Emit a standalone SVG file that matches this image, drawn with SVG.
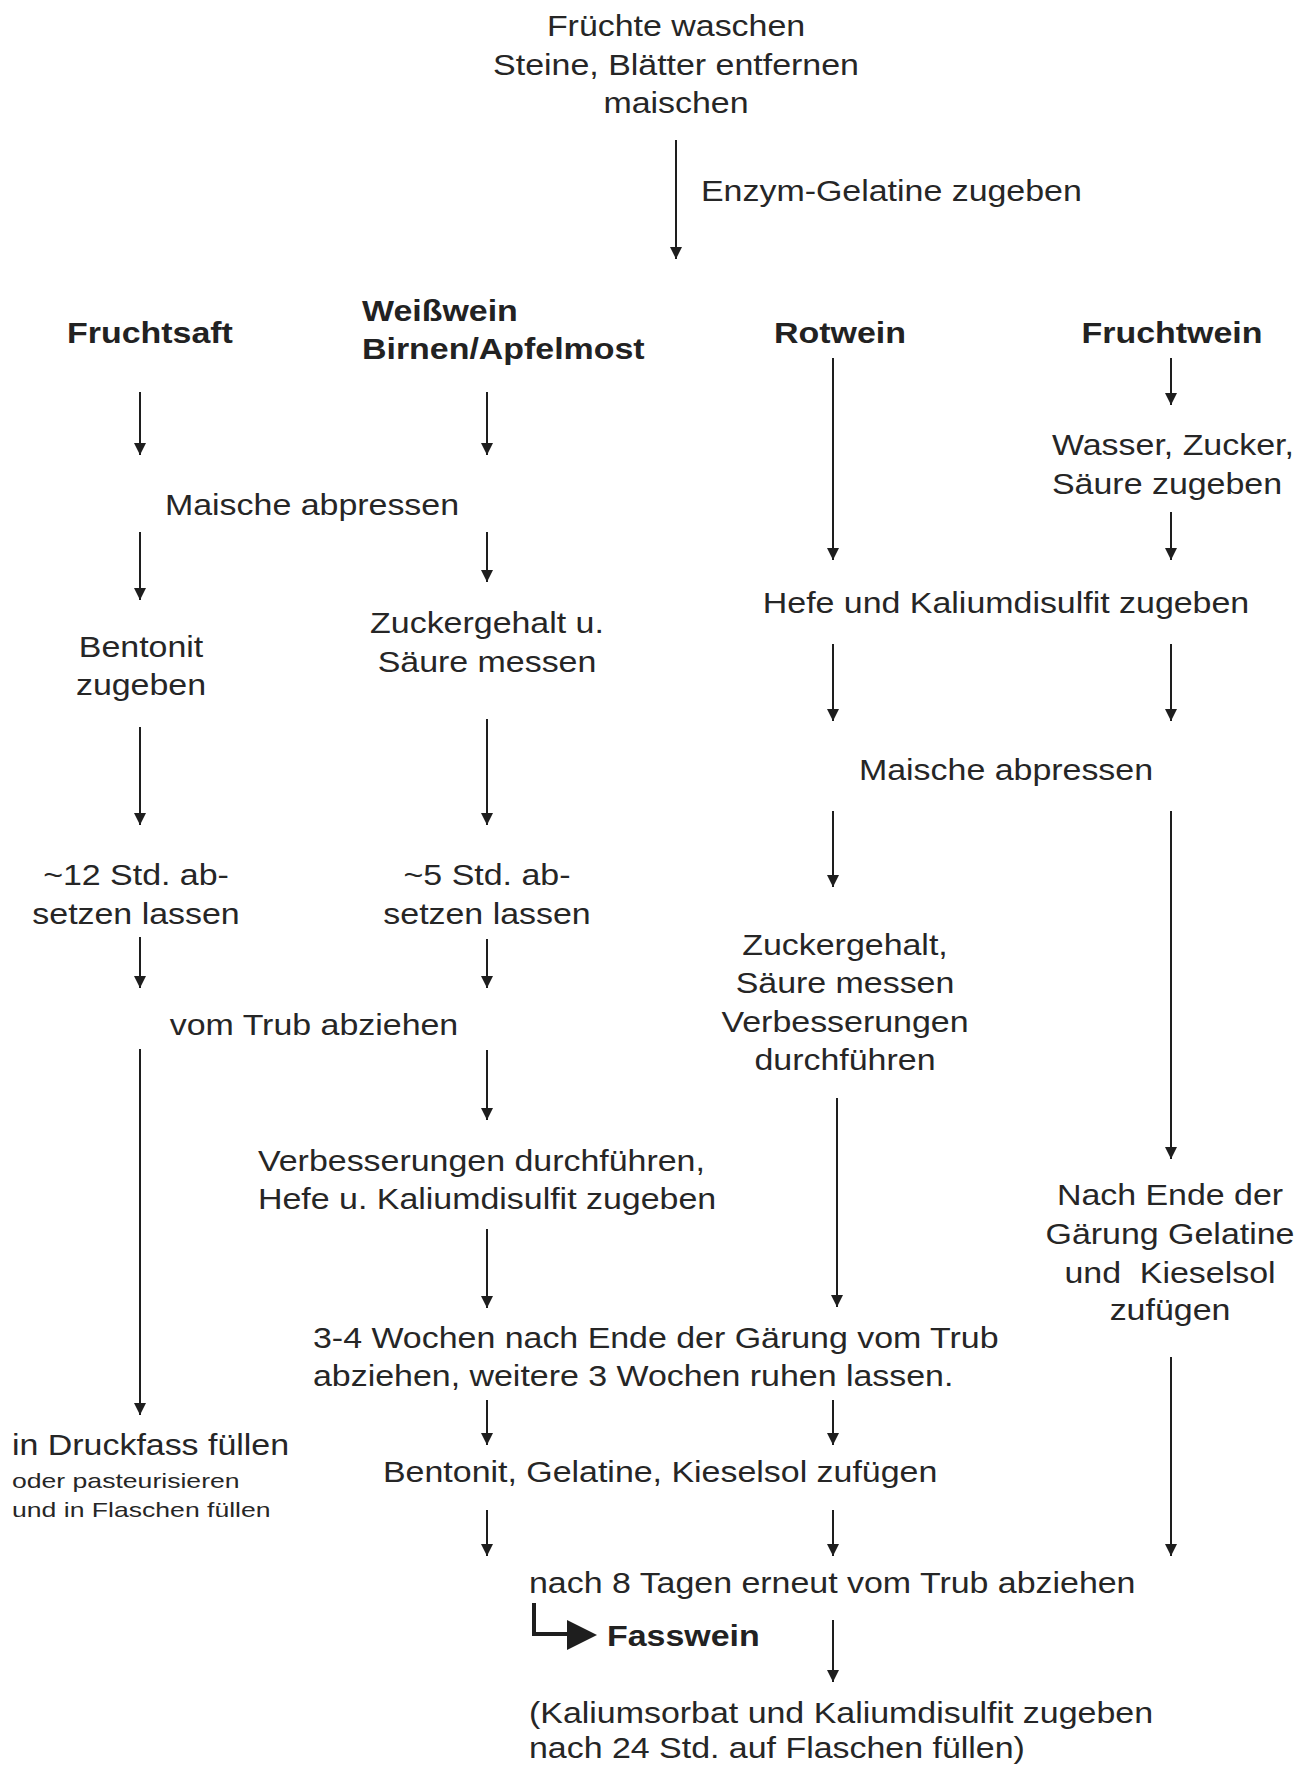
<svg xmlns="http://www.w3.org/2000/svg" width="1305" height="1766" viewBox="0 0 1305 1766">
<style>
.t{font-family:"Liberation Sans",Arial,sans-serif;font-size:29px;fill:#262626}
.b{font-weight:bold;fill:#222}
.s{font-size:20px}
.c{text-anchor:middle}
.ln{stroke:#1e1e1e;stroke-width:2;fill:none;marker-end:url(#ah)}
</style>
<defs>
<marker id="ah" viewBox="0 0 12 14" refX="12" refY="7" markerWidth="12" markerHeight="14" markerUnits="userSpaceOnUse" orient="auto">
<path d="M0,1 L12,7 L0,13 z" fill="#1e1e1e"/>
</marker>
</defs>
<rect width="1305" height="1766" fill="#ffffff"/>

<g id="n-start"><text class="t c" transform="translate(676,36) scale(1.17,1)"><tspan x="0" y="0">Früchte waschen</tspan><tspan x="0" y="39">Steine, Blätter entfernen</tspan><tspan x="0" y="77">maischen</tspan></text></g>
<g id="n-enzym"><text class="t" transform="translate(701,201) scale(1.17,1)">Enzym-Gelatine zugeben</text></g>

<g id="n-fruchtsaft"><text class="t b c" transform="translate(150,343) scale(1.17,1)">Fruchtsaft</text></g>
<g id="n-weisswein"><text class="t b" transform="translate(362,321) scale(1.17,1)"><tspan x="0" y="0">Weißwein</tspan><tspan x="0" y="38">Birnen/Apfelmost</tspan></text></g>
<g id="n-rotwein"><text class="t b c" transform="translate(840,343) scale(1.17,1)">Rotwein</text></g>
<g id="n-fruchtwein"><text class="t b c" transform="translate(1172,343) scale(1.17,1)">Fruchtwein</text></g>

<g id="n-wasser"><text class="t" transform="translate(1052,455) scale(1.17,1)"><tspan x="0" y="0">Wasser, Zucker,</tspan><tspan x="0" y="39">Säure zugeben</tspan></text></g>
<g id="n-maische1"><text class="t c" transform="translate(312,515) scale(1.17,1)">Maische abpressen</text></g>
<g id="n-hefe1"><text class="t c" transform="translate(1006,613) scale(1.17,1)">Hefe und Kaliumdisulfit zugeben</text></g>
<g id="n-bentonit1"><text class="t c" transform="translate(141,657) scale(1.17,1)"><tspan x="0" y="0">Bentonit</tspan><tspan x="0" y="38">zugeben</tspan></text></g>
<g id="n-zucker1"><text class="t c" transform="translate(487,633) scale(1.17,1)"><tspan x="0" y="0">Zuckergehalt u.</tspan><tspan x="0" y="39">Säure messen</tspan></text></g>
<g id="n-maische2"><text class="t c" transform="translate(1006,780) scale(1.17,1)">Maische abpressen</text></g>
<g id="n-std12"><text class="t c" transform="translate(136,885) scale(1.17,1)"><tspan x="0" y="0">~12 Std. ab-</tspan><tspan x="0" y="39">setzen lassen</tspan></text></g>
<g id="n-std5"><text class="t c" transform="translate(487,885) scale(1.17,1)"><tspan x="0" y="0">~5 Std. ab-</tspan><tspan x="0" y="39">setzen lassen</tspan></text></g>
<g id="n-zucker2"><text class="t c" transform="translate(845,955) scale(1.17,1)"><tspan x="0" y="0">Zuckergehalt,</tspan><tspan x="0" y="38">Säure messen</tspan><tspan x="0" y="77">Verbesserungen</tspan><tspan x="0" y="115">durchführen</tspan></text></g>
<g id="n-trub1"><text class="t c" transform="translate(314,1035) scale(1.17,1)">vom Trub abziehen</text></g>
<g id="n-verb"><text class="t" transform="translate(258,1171) scale(1.17,1)"><tspan x="0" y="0">Verbesserungen durchführen,</tspan><tspan x="0" y="38">Hefe u. Kaliumdisulfit zugeben</tspan></text></g>
<g id="n-gaerung"><text class="t c" transform="translate(1170,1205) scale(1.17,1)" xml:space="preserve"><tspan x="0" y="0">Nach Ende der</tspan><tspan x="0" y="39">Gärung Gelatine</tspan><tspan x="0" y="78">und  Kieselsol</tspan><tspan x="0" y="115">zufügen</tspan></text></g>
<g id="n-wochen"><text class="t" transform="translate(313,1348) scale(1.17,1)"><tspan x="0" y="0">3-4 Wochen nach Ende der Gärung vom Trub</tspan><tspan x="0" y="38">abziehen, weitere 3 Wochen ruhen lassen.</tspan></text></g>
<g id="n-druckfass"><text class="t" transform="translate(12,1455) scale(1.17,1)">in Druckfass füllen</text><text class="t s" transform="translate(12,1488) scale(1.33,1)"><tspan x="0" y="0">oder pasteurisieren</tspan><tspan x="0" y="29">und in Flaschen füllen</tspan></text></g>
<g id="n-bentonit2"><text class="t" transform="translate(383,1482) scale(1.17,1)">Bentonit, Gelatine, Kieselsol zufügen</text></g>
<g id="n-trub2"><text class="t" transform="translate(529,1593) scale(1.17,1)">nach 8 Tagen erneut vom Trub abziehen</text></g>
<g id="n-fasswein"><text class="t b" transform="translate(607,1646) scale(1.17,1)">Fasswein</text></g>
<g id="n-end"><text class="t" transform="translate(529,1723) scale(1.17,1)"><tspan x="0" y="0">(Kaliumsorbat und Kaliumdisulfit zugeben</tspan><tspan x="0" y="35">nach 24 Std. auf Flaschen füllen)</tspan></text></g>

<g id="connectors">
<line class="ln" x1="676" y1="140" x2="676" y2="259"/>
<line class="ln" x1="140" y1="392" x2="140" y2="455"/>
<line class="ln" x1="140" y1="532" x2="140" y2="600"/>
<line class="ln" x1="140" y1="727" x2="140" y2="825"/>
<line class="ln" x1="140" y1="937" x2="140" y2="988"/>
<line class="ln" x1="140" y1="1049" x2="140" y2="1415"/>
<line class="ln" x1="487" y1="392" x2="487" y2="455"/>
<line class="ln" x1="487" y1="532" x2="487" y2="582"/>
<line class="ln" x1="487" y1="719" x2="487" y2="825"/>
<line class="ln" x1="487" y1="939" x2="487" y2="988"/>
<line class="ln" x1="487" y1="1050" x2="487" y2="1120"/>
<line class="ln" x1="487" y1="1229" x2="487" y2="1308"/>
<line class="ln" x1="487" y1="1400" x2="487" y2="1445"/>
<line class="ln" x1="487" y1="1510" x2="487" y2="1556"/>
<line class="ln" x1="833" y1="358" x2="833" y2="560"/>
<line class="ln" x1="833" y1="644" x2="833" y2="721"/>
<line class="ln" x1="833" y1="811" x2="833" y2="887"/>
<line class="ln" x1="837" y1="1098" x2="837" y2="1307"/>
<line class="ln" x1="833" y1="1400" x2="833" y2="1445"/>
<line class="ln" x1="833" y1="1510" x2="833" y2="1556"/>
<line class="ln" x1="833" y1="1620" x2="833" y2="1682"/>
<line class="ln" x1="1171" y1="358" x2="1171" y2="405"/>
<line class="ln" x1="1171" y1="512" x2="1171" y2="560"/>
<line class="ln" x1="1171" y1="644" x2="1171" y2="721"/>
<line class="ln" x1="1171" y1="811" x2="1171" y2="1159"/>
<line class="ln" x1="1171" y1="1357" x2="1171" y2="1556"/>
<path d="M534,1603 V1634 H570" stroke="#1e1e1e" stroke-width="4" fill="none"/>
<polygon points="567,1620 597,1635 567,1650" fill="#1e1e1e"/>
</g>
</svg>
